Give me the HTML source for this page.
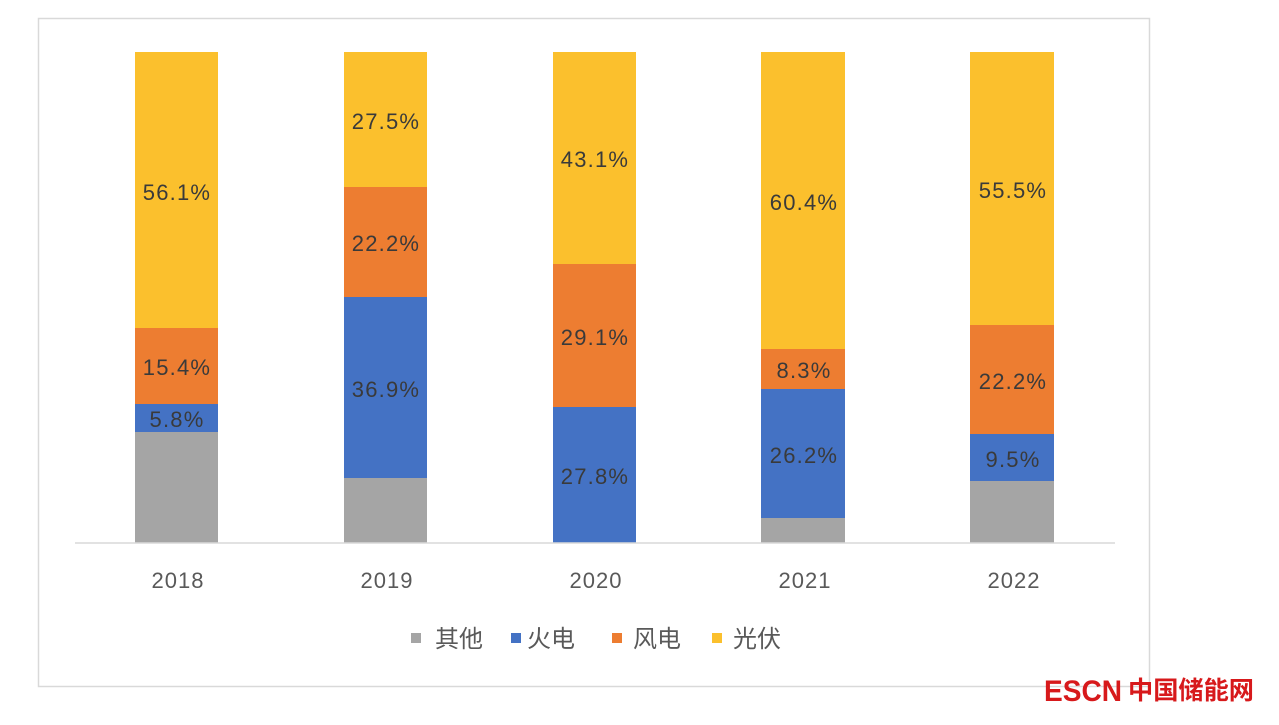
<!DOCTYPE html>
<html><head><meta charset="utf-8"><style>
body{margin:0;background:#fff;}
svg text{font-family:"Liberation Sans","Noto Sans CJK SC",sans-serif;}
</style></head><body>
<svg width="1279" height="720" xmlns="http://www.w3.org/2000/svg">
<rect x="0" y="0" width="1279" height="720" fill="#fff"/>
<rect x="38.5" y="18.5" width="1111" height="668" fill="none" stroke="#d9d9d9" stroke-width="1.5"/>
<g>
<rect x="135" y="432" width="83" height="111" fill="#a5a5a5"/>
<rect x="135" y="404" width="83" height="28" fill="#4472c4"/>
<rect x="135" y="328" width="83" height="76" fill="#ed7d31"/>
<rect x="135" y="52" width="83" height="276" fill="#fbc02d"/>
<rect x="344" y="478" width="83" height="65" fill="#a5a5a5"/>
<rect x="344" y="297" width="83" height="181" fill="#4472c4"/>
<rect x="344" y="187" width="83" height="110" fill="#ed7d31"/>
<rect x="344" y="52" width="83" height="135" fill="#fbc02d"/>
<rect x="553" y="407" width="83" height="136" fill="#4472c4"/>
<rect x="553" y="264" width="83" height="143" fill="#ed7d31"/>
<rect x="553" y="52" width="83" height="212" fill="#fbc02d"/>
<rect x="761" y="518" width="84" height="25" fill="#a5a5a5"/>
<rect x="761" y="389" width="84" height="129" fill="#4472c4"/>
<rect x="761" y="349" width="84" height="40" fill="#ed7d31"/>
<rect x="761" y="52" width="84" height="297" fill="#fbc02d"/>
<rect x="970" y="481" width="84" height="62" fill="#a5a5a5"/>
<rect x="970" y="434" width="84" height="47" fill="#4472c4"/>
<rect x="970" y="325" width="84" height="109" fill="#ed7d31"/>
<rect x="970" y="52" width="84" height="273" fill="#fbc02d"/>
</g>
<line x1="75" y1="543" x2="1115" y2="543" stroke="#d9d9d9" stroke-width="1.5"/>
<g font-size="22" fill="#3a3a3a" text-anchor="middle" letter-spacing="1.2">
<text x="177" y="200">56.1%</text><text x="177" y="375">15.4%</text><text x="177" y="427">5.8%</text>
<text x="386" y="129">27.5%</text><text x="386" y="251">22.2%</text><text x="386" y="397">36.9%</text>
<text x="595" y="167">43.1%</text><text x="595" y="345">29.1%</text><text x="595" y="484">27.8%</text>
<text x="804" y="210">60.4%</text><text x="804" y="378">8.3%</text><text x="804" y="463">26.2%</text>
<text x="1013" y="198">55.5%</text><text x="1013" y="389">22.2%</text><text x="1013" y="467">9.5%</text>
</g>
<g font-size="22" fill="#595959" text-anchor="middle" letter-spacing="1">
<text x="178" y="588">2018</text><text x="387" y="588">2019</text><text x="596" y="588">2020</text><text x="805" y="588">2021</text><text x="1014" y="588">2022</text>
</g>
<g font-size="24" fill="#595959">
<rect x="411" y="633" width="10" height="10" fill="#a5a5a5"/><text x="435" y="647">其他</text>
<rect x="511" y="633" width="10" height="10" fill="#4472c4"/><text x="527" y="647">火电</text>
<rect x="612" y="633" width="10" height="10" fill="#ed7d31"/><text x="633" y="647">风电</text>
<rect x="712" y="633" width="10" height="10" fill="#fbc02d"/><text x="733" y="647">光伏</text>
</g>
<text x="1044" y="701" font-size="30" font-weight="bold" fill="#d7191b" textLength="78" lengthAdjust="spacingAndGlyphs">ESCN</text>
<text x="1128" y="699" font-size="25" font-weight="bold" fill="#d7191b" textLength="126" lengthAdjust="spacingAndGlyphs">中国储能网</text>
</svg>
</body></html>
